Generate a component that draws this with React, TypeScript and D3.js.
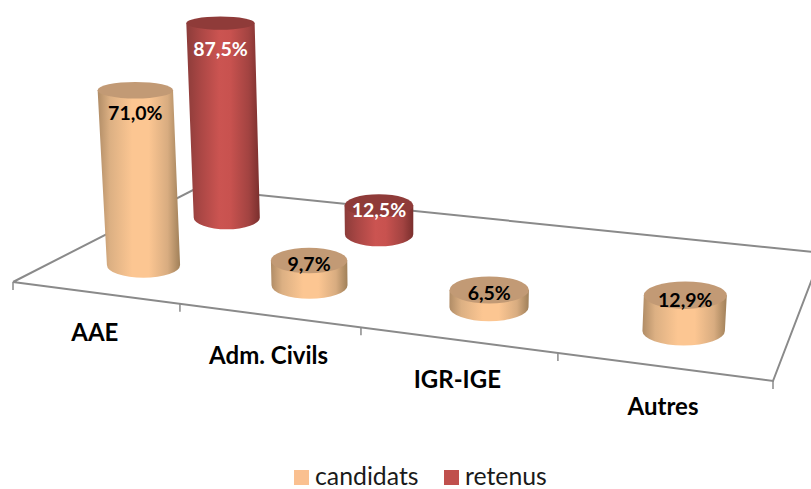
import React from 'react';
import * as d3 from 'd3';

const width = 811;
const height = 489;

const categories = ['AAE', 'Adm. Civils', 'IGR-IGE', 'Autres'];
const seriesNames = ['candidats', 'retenus'];
const candidats = [71.0, 9.7, 6.5, 12.9];
const retenus = [87.5, 12.5, 0, 0];
const seriesValues = [candidats, retenus];

const colors = ['#fac090', '#c0504d'];
const topColors = ['#c29a75', '#8f3b39'];
const labelColors = ['#000', '#fff'];
const font = 'Lato, Carlito, Calibri, sans-serif';

// corners of the floor on screen: front left, front right, back right, back left
const FL = [13, 282];
const FR = [773, 381];
const BR = [822, 253];
const BL = [196, 188.5];

const sx = FL[0] - FR[0] + BR[0] - BL[0];
const sy = FL[1] - FR[1] + BR[1] - BL[1];
const dx1 = FR[0] - BR[0];
const dx2 = BL[0] - BR[0];
const dy1 = FR[1] - BR[1];
const dy2 = BL[1] - BR[1];
const det = dx1 * dy2 - dx2 * dy1;
const g = (sx * dy2 - dx2 * sy) / det;
const h = (dx1 * sy - sx * dy1) / det;

const depth = (u: number, v: number) => 1 + g * u + h * v;

function project(u: number, v: number): [number, number] {
  const w = depth(u, v);
  const x = FL[0] + (FR[0] - FL[0] + g * FR[0]) * u + (BL[0] - FL[0] + h * BL[0]) * v;
  const y = FL[1] + (FR[1] - FL[1] + g * FR[1]) * u + (BL[1] - FL[1] + h * BL[1]) * v;
  return [x / w, y / w];
}

const xScale = d3.scaleBand<string>().domain(categories).range([0, 1]);
const zScale = d3.scaleBand<string>().domain(seriesNames).range([0, 0.98]);
const valueScale = d3.scaleLinear().domain([0, 100]).range([0, 255]);
const rySize = d3.scaleLinear().domain([20, 331]).range([6.5, 14.6]);
const baseRadius = 37.9;
// the verticals lean away from this x as they rise
const leanX = 414;
const leanK = 0.000173;

const fmt = d3.formatLocale({ decimal: ',', thousands: ' ', grouping: [3], currency: ['', ''] }).format('.1f');

function columns() {
  const out: any[] = [];
  seriesNames.forEach((name, s) => {
    categories.forEach((cat, c) => {
      const value = seriesValues[s][c];
      if (!value) return;
      const u = xScale(cat)! + xScale.bandwidth() / 2;
      const v = zScale(name)! + zScale.bandwidth() / 2;
      const w = depth(u, v);
      const [bx, by] = project(u, v);
      const ht = valueScale(value) / w;
      const grow = 1 + ht * leanK;
      const tx = leanX + (bx - leanX) * grow;
      const ty = by - ht;
      const rb = baseRadius / w;
      const rt = rb * grow;
      out.push({ key: name + cat, s, value, bx, by, tx, ty, rb, rt, ht, ryb: rySize(by), ryt: rySize(ty) });
    });
  });
  // back series first, so the front ones sit over it
  return out.sort((a, b) => b.s - a.s);
}

function Cylinder({ d }: { d: any }) {
  const body = `M${d.bx - d.rb},${d.by} L${d.tx - d.rt},${d.ty} L${d.tx + d.rt},${d.ty} L${d.bx + d.rb},${d.by} A${d.rb},${d.ryb} 0 0 1 ${d.bx - d.rb},${d.by} Z`;
  return (
    <g>
      <path d={body} fill={`url(#body${d.s})`} />
      <ellipse cx={d.tx} cy={d.ty} rx={d.rt} ry={d.ryt} fill={topColors[d.s]} />
    </g>
  );
}

export default function App() {
  const cols = columns();
  const ticks = [0, 0.25, 0.5, 0.75, 1];
  const floor = d3.line()([FL, BL, BR, FR, FL] as [number, number][]) as string;

  return (
    <svg width={width} height={height} style={{ position: 'absolute', left: 0, top: 0, display: 'block' }}>
      <defs>
        <linearGradient id="body0" x1="0" x2="1" y1="0" y2="0">
          <stop offset="0" stopColor="#b08c66" />
          <stop offset="0.15" stopColor="#dcb083" />
          <stop offset="0.42" stopColor="#fcc692" />
          <stop offset="0.62" stopColor="#fcc692" />
          <stop offset="0.85" stopColor="#d8ac80" />
          <stop offset="1" stopColor="#a08059" />
        </linearGradient>
        <linearGradient id="body1" x1="0" x2="1" y1="0" y2="0">
          <stop offset="0" stopColor="#8c3c3a" />
          <stop offset="0.2" stopColor="#ab4745" />
          <stop offset="0.45" stopColor="#cb5451" />
          <stop offset="0.6" stopColor="#c8524f" />
          <stop offset="0.85" stopColor="#a24341" />
          <stop offset="1" stopColor="#7a2f2d" />
        </linearGradient>
      </defs>

      <path d={floor} fill="none" stroke="#8a8a8a" strokeWidth={2} />
      {ticks.map((t) => {
        const [x, y] = project(t, 0);
        return <line key={t} x1={x} x2={x} y1={y} y2={y + 8} stroke="#8a8a8a" strokeWidth={1.5} />;
      })}

      {cols.map((d) => <Cylinder key={d.key} d={d} />)}

      {cols.map((d) => (
        <text
          key={d.key}
          x={d.tx}
          y={d.ty + d.ht * 0.13}
          textAnchor="middle"
          dominantBaseline="central"
          fontFamily={font}
          fontWeight="bold"
          fontSize={19.5}
          fill={labelColors[d.s]}
        >
          {fmt(d.value) + '%'}
        </text>
      ))}

      {categories.map((cat) => {
        const [x, y] = project(xScale(cat)! + xScale.bandwidth() / 2, 0);
        return (
          <text key={cat} x={x} y={y + 39} textAnchor="middle" dominantBaseline="central" fontFamily={font} fontWeight="bold" fontSize={24} fill="#000">
            {cat}
          </text>
        );
      })}

      {seriesNames.map((name, i) => {
        const lx = [294, 444][i];
        return (
          <g key={name}>
            <rect x={lx} y={470} width={15} height={15} fill={colors[i]} />
            <text x={lx + 21} y={485} fontFamily={font} fontSize={24.8} fill="#1a1a1a">{name}</text>
          </g>
        );
      })}
    </svg>
  );
}
